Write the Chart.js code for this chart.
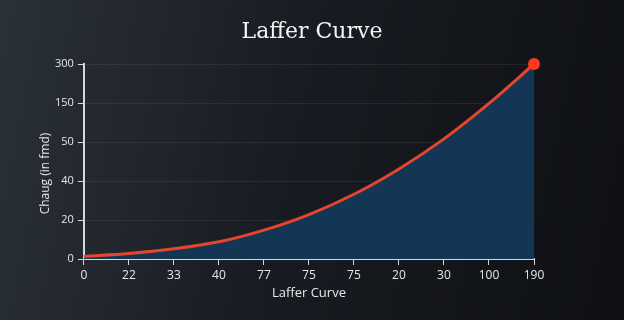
<!DOCTYPE html>
<html>
<head>
<meta charset="utf-8">
<script src="https://cdn.jsdelivr.net/npm/chart.js@4"></script>
<style>
  html, body { margin: 0; padding: 0; background: #15181d; }
  #wrap { width: 624px; height: 320px; }
</style>
</head>
<body>
<div id="wrap"><canvas id="lafferChart" width="624" height="320"></canvas></div>
<script>
// x axis categories, as printed under the axis
const xLabels = ['0', '22', '33', '40', '77', '75', '75', '20', '30', '100', '190']
// y tick labels, bottom to top (spaced evenly on the picture)
const yTickLabels = ['0', '20', '40', '50', '150', '300']
// curve height, measured in tick steps from the bottom
const curveValues = [0.07, 0.14, 0.26, 0.44, 0.74, 1.14, 1.66, 2.31, 3.08, 3.99, 5.0]

const chartTitle = 'Laffer Curve'
const xTitle = 'Laffer Curve'
const yTitle = 'Chaug (in fmd)'

const txt = '#e6e8ea'
const axisCol = '#d4d8dc'

// dark gradient behind everything, plus the two titles
const bgPlugin = {
  id: 'bg',
  beforeDraw(chart) {
    const c = chart.ctx
    const g = c.createLinearGradient(0, 0, chart.width, chart.height * 0.4)
    g.addColorStop(0, '#2b3139')
    g.addColorStop(0.5, '#181b21')
    g.addColorStop(1, '#0f1115')
    c.save()
    c.fillStyle = g
    c.fillRect(0, 0, chart.width, chart.height)
    c.restore()
  },
  afterDraw(chart) {
    const c = chart.ctx
    const area = chart.chartArea
    c.save()
    c.fillStyle = '#f2f3f4'
    c.font = '22px "DejaVu Serif"'
    c.textAlign = 'center'
    c.textBaseline = 'middle'
    c.fillText(chartTitle, chart.width / 2, 32)
    c.fillStyle = txt
    c.font = '12px "Open Sans"'
    c.translate(46, (area.top + area.bottom) / 2 + 12)
    c.rotate(-Math.PI / 2)
    c.fillText(yTitle, 0, 0)
    c.restore()
  }
}

const ctx = document.getElementById('lafferChart')
new Chart(ctx, {
  type: 'line',
  data: {
    labels: xLabels,
    datasets: [{
      label: 'Laffer Curve',
      data: curveValues,
      borderColor: '#e5452f',
      borderWidth: 3,
      backgroundColor: '#143655',
      fill: 'origin',
      cubicInterpolationMode: 'monotone',
      pointRadius: curveValues.map((v, i) => i === curveValues.length - 1 ? 6 : 0),
      pointBackgroundColor: '#ff3a1c',
      pointBorderWidth: 0,
      clip: false
    }]
  },
  options: {
    responsive: false,
    animation: false,
    devicePixelRatio: 1,
    layout: { padding: { left: 51, right: 90, top: 64, bottom: 15 } },
    plugins: {
      legend: { display: false },
      tooltip: { enabled: false },
      title: { display: false }
    },
    scales: {
      x: {
        grid: { drawOnChartArea: false, drawTicks: true, tickLength: 6, tickColor: axisCol },
        border: { color: axisCol, width: 2 },
        ticks: { color: txt, font: { family: 'Open Sans', size: 12 }, padding: 3, maxRotation: 0, autoSkip: false },
        title: { display: true, text: xTitle, color: txt, font: { family: 'Open Sans', size: 13 }, padding: { top: 0 } }
      },
      y: {
        min: 0,
        max: 5,
        grid: { color: 'rgba(255,255,255,0.07)', tickLength: 6, tickColor: axisCol },
        border: { color: axisCol, width: 2 },
        ticks: {
          stepSize: 1,
          color: txt,
          font: { family: 'Open Sans', size: 11 },
          padding: 4,
          callback: function(v) { return yTickLabels[v] }
        }
      }
    }
  },
  plugins: [bgPlugin]
})
</script>
</body>
</html>
